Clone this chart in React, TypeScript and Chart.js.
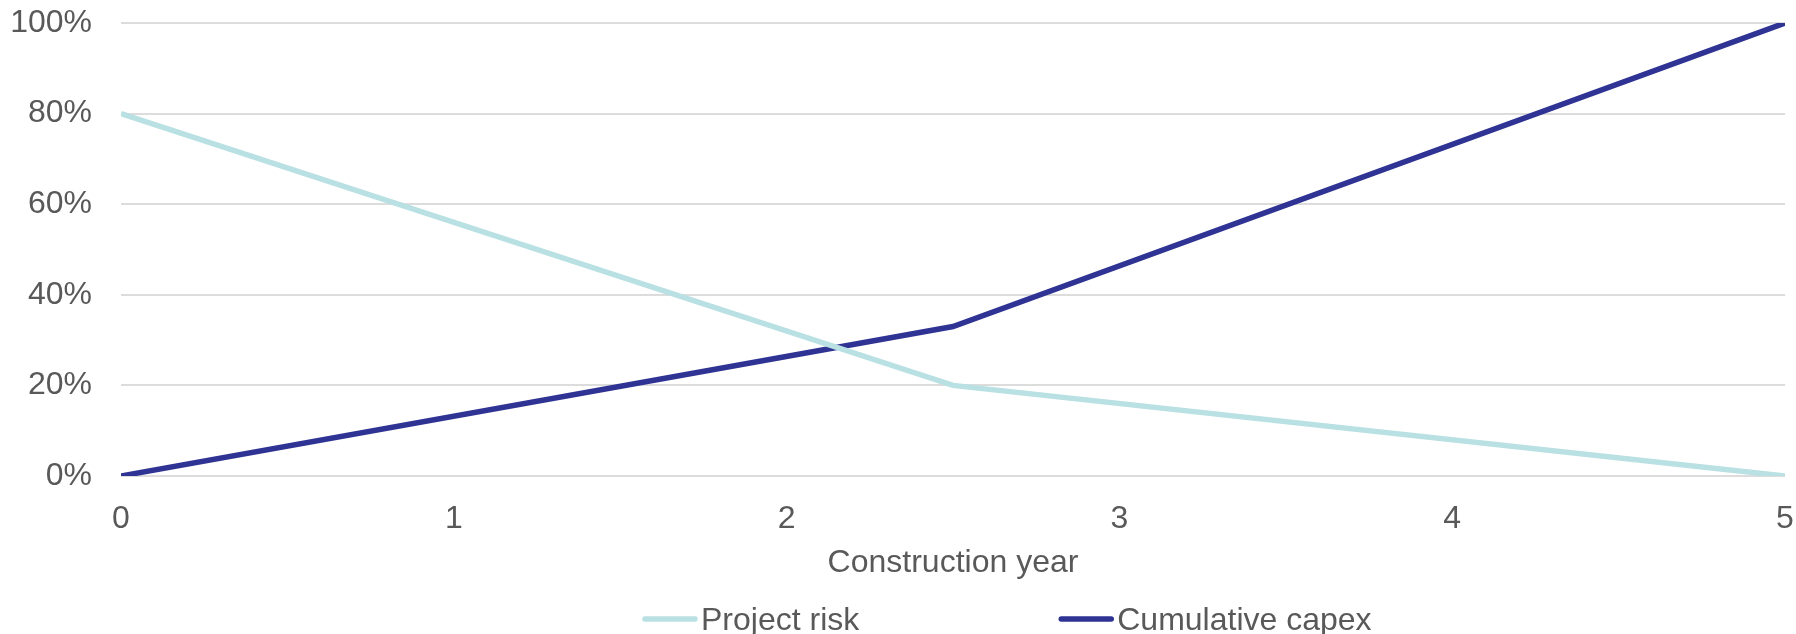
import React, { useEffect, useRef } from "react";
import { Chart, registerables } from "chart.js";

Chart.register(...registerables);

const years = [0, 2.5, 5];
const projectRisk = [80, 20, 0];
const cumulativeCapex = [0, 33, 100];
const seriesNames = ["Project risk", "Cumulative capex"];
const xTickValues = [0, 1, 2, 3, 4, 5];
const yTickValues = [0, 20, 40, 60, 80, 100];
const xTitle = "Construction year";

const FONT = "'Liberation Sans', Arial, sans-serif";
const TEXT = "#595959";
const RISK_COLOR = "#B9E0E3";
const CAPEX_COLOR = "#2F3393";

const legendPlugin = {
  id: "bottomLegend",
  afterDraw(chart: any) {
    const ctx = chart.ctx;
    ctx.save();
    ctx.font = `32px ${FONT}`;
    ctx.textBaseline = "alphabetic";
    ctx.textAlign = "left";
    let x = 642;
    const lineY = 619;
    const textY = 630;
    chart.data.datasets.forEach((ds: any) => {
      ctx.strokeStyle = ds.borderColor;
      ctx.lineWidth = 5.5;
      ctx.lineCap = "round";
      ctx.beginPath();
      ctx.moveTo(x + 3, lineY);
      ctx.lineTo(x + 53, lineY);
      ctx.stroke();
      ctx.fillStyle = TEXT;
      ctx.fillText(ds.label, x + 59, textY);
      const w = ctx.measureText(ds.label).width;
      x = x + 59 + w + 199;
    });
    ctx.restore();
  },
};

export default function App() {
  const ref = useRef<HTMLCanvasElement | null>(null);
  useEffect(() => {
    if (!ref.current) return;
    const chart = new Chart(ref.current, {
      type: "line",
      data: {
        datasets: [
          {
            label: seriesNames[0],
            data: years.map((x, i) => ({ x, y: projectRisk[i] })),
            borderColor: RISK_COLOR,
            backgroundColor: RISK_COLOR,
            borderWidth: 5.5,
            pointRadius: 0,
            tension: 0,
          },
          {
            label: seriesNames[1],
            data: years.map((x, i) => ({ x, y: cumulativeCapex[i] })),
            borderColor: CAPEX_COLOR,
            backgroundColor: CAPEX_COLOR,
            borderWidth: 5.5,
            pointRadius: 0,
            tension: 0,
          },
        ],
      },
      options: {
        responsive: false,
        animation: false,
        layout: { padding: { top: 23, bottom: 52, left: 0, right: 0 } },
        plugins: {
          legend: { display: false },
          tooltip: { enabled: false },
        },
        scales: {
          x: {
            type: "linear",
            min: xTickValues[0],
            max: xTickValues[xTickValues.length - 1],
            afterBuildTicks: (s: any) => {
              s.ticks = xTickValues.map((v) => ({ value: v }));
            },
            ticks: {
              padding: 24,
              color: TEXT,
              font: { family: FONT, size: 32 },
              maxRotation: 0,
              callback: (v: any) => String(v),
            },
            grid: { display: false, drawTicks: false },
            border: { display: false },
            title: {
              display: true,
              text: xTitle,
              color: TEXT,
              font: { family: FONT, size: 32 },
              padding: { top: 0, bottom: 0 },
            },
            afterFit: (s: any) => {
              s.height = 106;
              s.paddingLeft = 0;
              s.paddingRight = 11;
            },
          },
          y: {
            min: yTickValues[0],
            max: yTickValues[yTickValues.length - 1],
            afterBuildTicks: (s: any) => {
              s.ticks = yTickValues.map((v) => ({ value: v }));
            },
            ticks: {
              padding: 29,
              color: TEXT,
              font: { family: FONT, size: 32 },
              callback: (v: any) => v + "%",
            },
            grid: { color: "#DCDCDC", lineWidth: 2, drawTicks: false },
            border: { display: false },
            afterFit: (s: any) => {
              s.width = 121;
              s.paddingTop = 0;
              s.paddingBottom = 0;
            },
          },
        },
      },
      plugins: [legendPlugin],
    });
    return () => chart.destroy();
  }, []);
  return (
    <div style={{ position: "fixed", left: 0, top: 0, width: 1796, height: 634 }}>
      <canvas ref={ref} width={1796} height={634} style={{ width: 1796, height: 634, display: "block" }} />
    </div>
  );
}
